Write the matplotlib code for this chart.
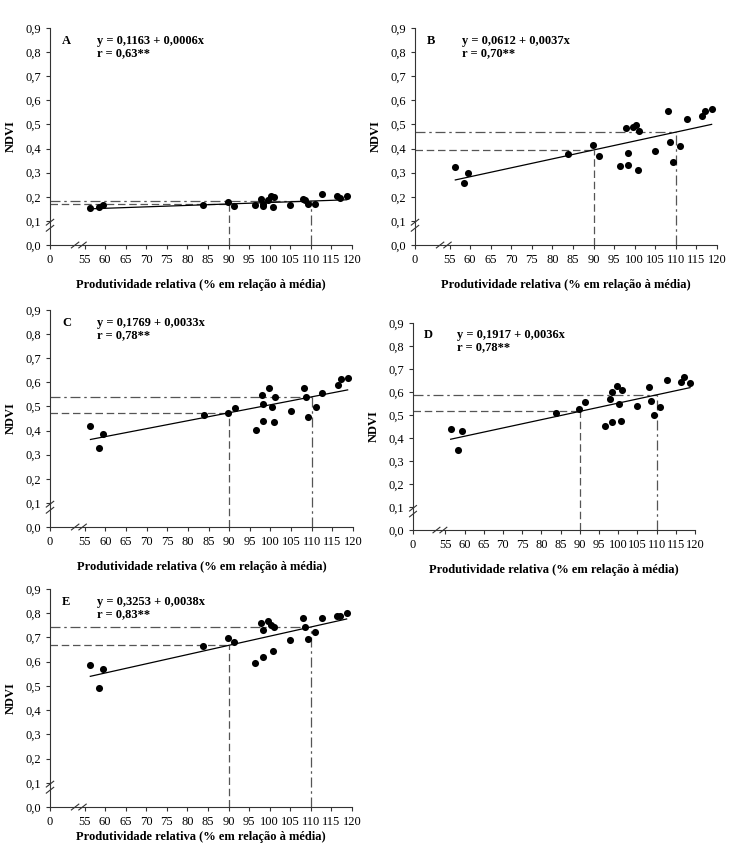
import matplotlib
matplotlib.use("Agg")
import matplotlib.pyplot as plt
from matplotlib.ticker import FuncFormatter

plt.rcParams['font.family'] = ['Liberation Serif', 'DejaVu Serif']

# relative productivity (% of mean), shared by all panels
prod = [56.4, 58.4, 59.4, 83.9, 89.8, 91.3, 96.5, 97.9, 98.3, 98.3, 99.6, 100.3,
        100.8, 101.1, 105.0, 108.1, 108.5, 109.2, 111.0, 112.6, 116.3, 117.1, 118.7]

ndvi_a = [0.155, 0.158, 0.165, 0.165, 0.180, 0.162, 0.168, 0.190, 0.170, 0.160, 0.185, 0.205,
          0.158, 0.198, 0.165, 0.190, 0.185, 0.172, 0.172, 0.212, 0.205, 0.195, 0.205]
ndvi_b = [0.323, 0.256, 0.299, 0.376, 0.415, 0.369, 0.329, 0.485, 0.382, 0.332, 0.491, 0.496,
          0.312, 0.473, 0.390, 0.556, 0.429, 0.346, 0.409, 0.523, 0.535, 0.556, 0.563]
ndvi_c = [0.418, 0.329, 0.384, 0.465, 0.471, 0.492, 0.402, 0.547, 0.510, 0.438, 0.578, 0.498,
          0.434, 0.541, 0.481, 0.578, 0.541, 0.455, 0.498, 0.554, 0.588, 0.613, 0.617]
ndvi_d = [0.438, 0.346, 0.432, 0.507, 0.526, 0.557, 0.451, 0.570, 0.600, 0.471, 0.625, 0.548,
          0.475, 0.607, 0.538, 0.620, 0.561, 0.501, 0.535, 0.654, 0.643, 0.667, 0.638]
ndvi_e = [0.588, 0.493, 0.570, 0.666, 0.696, 0.680, 0.593, 0.758, 0.731, 0.619, 0.769, 0.750,
          0.645, 0.745, 0.688, 0.779, 0.742, 0.692, 0.721, 0.782, 0.789, 0.789, 0.802]

letters = ["A", "B", "C", "D", "E"]
intercepts = [0.1163, 0.0612, 0.1769, 0.1917, 0.3253]
slopes = [0.0006, 0.0037, 0.0033, 0.0036, 0.0038]
r_text = ["0,63**", "0,70**", "0,78**", "0,78**", "0,83**"]
series = [ndvi_a, ndvi_b, ndvi_c, ndvi_d, ndvi_e]

x_ticks = [0, 55, 60, 65, 70, 75, 80, 85, 90, 95, 100, 105, 110, 115, 120]
y_ticks = [0.0, 0.1, 0.2, 0.3, 0.4, 0.5, 0.6, 0.7, 0.8, 0.9]

# the "0" tick sits just left of the axis break
X0 = 46.6

fig = plt.figure(figsize=(7.31, 8.44), dpi=100)
rects = [[0.0684, 0.7097, 0.4131, 0.2571],
         [0.5677, 0.7097, 0.4131, 0.2571],
         [0.0684, 0.3756, 0.4145, 0.2571],
         [0.5650, 0.3720, 0.3858, 0.2453],
         [0.0684, 0.0438, 0.4131, 0.2583]]
xlabel_pads = [9, 9, 9, 9, 2]

line_col = "#555555"

for i in range(5):
    ax = fig.add_axes(rects[i])
    a, b = intercepts[i], slopes[i]
    ys = series[i]

    ax.scatter(prod, ys, s=26, color="black", zorder=5, linewidths=0)
    xmin, xmax = min(prod), max(prod)
    ax.plot([xmin, xmax], [a + b * xmin, a + b * xmax], color="black", lw=0.9, zorder=4)

    y90 = a + b * 90
    y110 = a + b * 110
    ax.hlines(y90, X0, 90, colors=line_col, linestyles=(0, (6, 3)), lw=0.9)
    ax.vlines(90, 0, y90, colors=line_col, linestyles=(0, (6, 3)), lw=0.9)
    ax.hlines(y110, X0, 110, colors=line_col, linestyles=(0, (8, 3, 2, 3)), lw=0.9)
    ax.vlines(110, 0, y110, colors=line_col, linestyles=(0, (8, 3, 2, 3)), lw=0.9)

    ax.set_xlim(X0, 120)
    ax.set_ylim(0, 0.9)
    ax.set_xticks([X0] + x_ticks[1:])
    ax.set_xticklabels([str(t) for t in x_ticks])
    ax.set_yticks(y_ticks)
    ax.yaxis.set_major_formatter(FuncFormatter(lambda v, p: f"{v:.1f}".replace(".", ",")))
    ax.tick_params(labelsize=9, length=3, width=0.8, color="#333333")
    for s in ["top", "right"]:
        ax.spines[s].set_visible(False)
    for s in ["left", "bottom"]:
        ax.spines[s].set_linewidth(0.8)
        ax.spines[s].set_color("#333333")

    # axis break marks
    for dx in (-0.9, 0.9):
        ax.plot([53.6 + dx - 0.9, 53.6 + dx + 0.9], [-0.012, 0.012], color="#333333",
                lw=0.8, clip_on=False, zorder=6)
        ax.plot([X0 - 0.9, X0 + 0.9], [0.082 + dx * 0.014 - 0.012, 0.082 + dx * 0.014 + 0.012],
                color="#333333", lw=0.8, clip_on=False, zorder=6)

    ax.set_ylabel("NDVI", fontsize=9, fontweight="bold", labelpad=6)
    ax.set_xlabel("Produtividade relativa (% em relação à média)", fontsize=9,
                  fontweight="bold", labelpad=xlabel_pads[i])

    ax.text(0.04, 0.94, letters[i], transform=ax.transAxes, fontsize=9,
            fontweight="bold", va="center")
    eq = f"y = {a:.4f} + {b:.4f}x".replace(".", ",")
    ax.text(0.155, 0.94, eq, transform=ax.transAxes, fontsize=9,
            fontweight="bold", va="center")
    ax.text(0.155, 0.885, "r = " + r_text[i], transform=ax.transAxes, fontsize=9,
            fontweight="bold", va="center")

fig.savefig("out.png", dpi=100)
